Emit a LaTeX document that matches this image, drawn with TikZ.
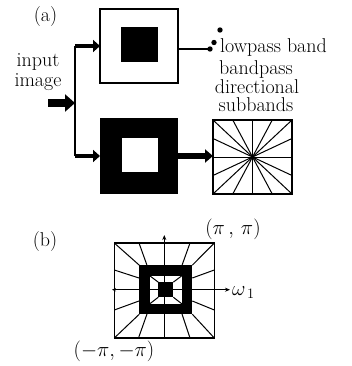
\documentclass[tikz,border=0pt]{standalone}
\usetikzlibrary{arrows.meta,calc}
\begin{document}
\begin{tikzpicture}[x=1pt,y=-1pt,
  txt/.style={font=\fontsize{20}{20}\selectfont, inner sep=0pt},
  thinln/.style={line width=1.2pt},
  gridln/.style={line width=1pt},
  boxd/.style={draw, inner sep=0pt, outer sep=0pt, line width=1.3pt},
  boxf/.style={fill=black, inner sep=0pt, outer sep=0pt},
  boxw/.style={fill=white, inner sep=0pt, outer sep=0pt},
  arrowA/.style={line width=4pt, -{Triangle[length=7pt,width=12pt]}},
  arrowB/.style={line width=8pt, -{Triangle[length=10pt,width=17pt]}},
  arrowC/.style={line width=6pt, -{Triangle[length=8pt,width=13pt]}},
  axisarr/.style={line width=1pt, -{Stealth[length=5pt,width=4pt]}},
  axisarr2/.style={line width=1pt, {Stealth[length=4pt,width=3.5pt]}-{Stealth[length=5pt,width=4pt]}}
]
\useasboundingbox[fill=white] (0,0) rectangle (352,366);

% ---------- part (a) ----------
\node[txt] (la) at (45.5,16.5) {(a)};
\node[txt, anchor=base] (in1) at (38,67) {input};
\node[txt, anchor=base] (in2) at (38,87) {image};

\node[boxd, minimum width=78pt, minimum height=74pt] (lp) at (139,46) {};
\node[boxf, minimum width=37pt, minimum height=35pt] (lpc) at (139.5,44.5) {};

\node[boxf, minimum width=78pt, minimum height=75pt] (bp) at (139,156) {};
\node[boxw, minimum width=36pt, minimum height=34pt] (bpc) at (140,155) {};

\node[boxd, line width=1.1pt, minimum width=79pt, minimum height=74pt] (dir) at (252.5,157) {};
\draw[gridln] (dir.north west) -- (dir.south east);
\draw[gridln] (dir.north east) -- (dir.south west);
\draw[gridln] (dir.north) -- (dir.south);
\draw[gridln] (dir.west) -- (dir.east);
\draw[gridln] ($(dir.north west)!0.25!(dir.north east)$) -- ($(dir.south west)!0.75!(dir.south east)$);
\draw[gridln] ($(dir.north west)!0.75!(dir.north east)$) -- ($(dir.south west)!0.25!(dir.south east)$);
\draw[gridln] ($(dir.north west)!0.25!(dir.south west)$) -- ($(dir.north east)!0.75!(dir.south east)$);
\draw[gridln] ($(dir.north west)!0.75!(dir.south west)$) -- ($(dir.north east)!0.25!(dir.south east)$);

\coordinate (bt) at (75,46);
\coordinate (bb) at (75,156);
\coordinate (bi) at (75,103);
\coordinate (is) at (48,103);
\draw[thinln] (bt) -- (bb);
\draw[arrowB] (is) -- (bi);
\draw[arrowA] (bt) -- (lp.west);
\draw[arrowA] (bb) -- (bp.west);
\draw[arrowC] (bp.east) -- (bp.east -| dir.west);

\coordinate (d1) at (210,49);
\coordinate (d2) at (214,42.5);
\coordinate (d3) at (220,30);
\draw[thinln] (lp.east |- d1) -- (d1);
\fill (d1) circle (2.7pt);
\fill (d2) circle (2.7pt);
\fill (d3) circle (2.7pt);

\node[txt, anchor=base west] (lpt) at (220,52.5) {lowpass band};
\node[txt, anchor=base] (bp1) at (256,75) {bandpass};
\node[txt, anchor=base] (bp2) at (257,93.5) {directional};
\node[txt, anchor=base] (bp3) at (256,112) {subbands};

% ---------- part (b) ----------
\node[txt] (lb) at (45,242) {(b)};
\node[boxd, line width=1.1pt, minimum width=100pt, minimum height=95pt] (fo) at (164.3,290.5) {};
\node[boxf, minimum width=53pt, minimum height=49pt] (ff) at (165.8,289.7) {};
\node[boxw, minimum width=32pt, minimum height=28pt] (wi) at (165.8,289.8) {};
\node[boxf, minimum width=15pt, minimum height=15pt] (ic) at (165.8,289.7) {};

% radiating lines outside the frame
\draw[gridln] (fo.north west) -- (ff.north west);
\draw[gridln] (fo.north east) -- (ff.north east);
\draw[gridln] (fo.south west) -- (ff.south west);
\draw[gridln] (fo.south east) -- (ff.south east);
\draw[gridln] (139,243) -- (147,265.3);
\draw[gridln] (190,243) -- (182,265.3);
\draw[gridln] (138.5,338) -- (147,314);
\draw[gridln] (190,338) -- (182,314);
\draw[gridln] (114.3,270) -- (139,278);
\draw[gridln] (114.3,310) -- (139,301);
\draw[gridln] (214.3,270) -- (192.3,278);
\draw[gridln] (214.3,310) -- (192.3,301);
% ring diagonals
\draw[gridln] (wi.north west) -- (ic.north west);
\draw[gridln] (wi.north east) -- (ic.north east);
\draw[gridln] (wi.south west) -- (ic.south west);
\draw[gridln] (wi.south east) -- (ic.south east);

% axes
\coordinate (ay0) at (164.3,338);
\coordinate (ay1) at (164.3,235);
\coordinate (ax0) at (112,289.7);
\coordinate (ax1) at (230,289.7);
\draw[axisarr] (ay0) -- (ay1);
\draw[axisarr2] (ax0) -- (ax1);

\node[txt] (pp) at (233,229) {$(\pi\,,\,\pi)$};
\node[txt, anchor=base west] (om) at (232,295.5) {$\omega_{\,1}$};
\node[txt] (mm) at (114,351) {$(-\pi,-\pi)$};
\end{tikzpicture}
\end{document}
